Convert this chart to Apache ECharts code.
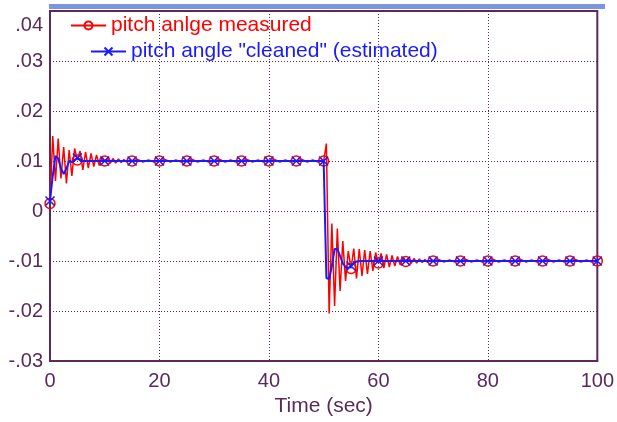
<!DOCTYPE html>
<html>
<head>
<meta charset="utf-8">
<script src="https://cdn.jsdelivr.net/npm/echarts@6/dist/echarts.min.js"></script>
<style>html,body{margin:0;padding:0;background:#fff}#c{width:617px;height:422px}</style>
</head>
<body>
<div id="c"></div>
<script>
// ---- data ----
const seriesNames = ['pitch anlge measured', 'pitch angle "cleaned" (estimated)'];
const xTickLabels = ['0', '20', '40', '60', '80', '100'];
const yTickLabels = ['-.03', '-.02', '-.01', '0', '.01', '.02', '.03', '.04'];

const tMeasured = [
  0, 0.5, 1, 1.5, 2, 2.5, 3, 3.5, 4, 4.5, 5, 5.5, 6, 6.5, 7, 7.5, 8, 8.5, 9, 9.5,
  10, 10.5, 11, 11.5, 12, 12.5, 13, 13.5, 14, 14.5, 15,
  16, 17, 18, 19, 20, 21, 22, 23, 24, 25, 26, 27, 28, 29, 30, 31, 32, 33, 34, 35,
  36, 37, 38, 39, 40, 41, 42, 43, 44, 45, 46, 47, 48, 49, 49.5, 50,
  50.5, 51, 51.5, 52, 52.5, 53, 53.5, 54, 54.5, 55, 55.5, 56, 56.5, 57, 57.5, 58, 58.5, 59, 59.5,
  60, 60.5, 61, 61.5, 62, 62.5, 63, 63.5, 64, 64.5, 65, 65.5, 66, 66.5, 67, 67.5, 68, 68.5, 69, 69.5, 70,
  71, 72, 73, 74, 75, 76, 77, 78, 79, 80, 81, 82, 83, 84, 85, 86, 87, 88, 89, 90,
  91, 92, 93, 94, 95, 96, 97, 98, 99, 100
];
const measured = [
  0.0015, 0.0150, 0.0060, 0.0145, 0.0065, 0.0128, 0.0055, 0.0122, 0.0070, 0.0125, 0.0102, 0.0120, 0.0082, 0.0118, 0.0086, 0.0115, 0.0089, 0.0112, 0.0091, 0.0108,
  0.0100, 0.0106, 0.0095, 0.0105, 0.0096, 0.0104, 0.0097, 0.0103, 0.0098, 0.0102, 0.0100,
  0.0103, 0.0098, 0.0102, 0.0098, 0.0100, 0.0103, 0.0098, 0.0102, 0.0098, 0.0100, 0.0103, 0.0098, 0.0102, 0.0098, 0.0100, 0.0103, 0.0098, 0.0102, 0.0098, 0.0100,
  0.0103, 0.0098, 0.0102, 0.0098, 0.0100, 0.0103, 0.0098, 0.0102, 0.0098, 0.0100, 0.0103, 0.0098, 0.0102, 0.0098, 0.0101, 0.0100,
  0.0135, -0.0205, -0.0025, -0.0190, -0.0035, -0.0160, -0.0060, -0.0140, -0.0080, -0.0115, -0.0075, -0.0135, -0.0076, -0.0130, -0.0078, -0.0126, -0.0080, -0.0120, -0.0083,
  -0.0104, -0.0085, -0.0114, -0.0087, -0.0112, -0.0089, -0.0110, -0.0091, -0.0108, -0.0092, -0.0101, -0.0094, -0.0105, -0.0095, -0.0104, -0.0096, -0.0103, -0.0097, -0.0103, -0.0098, -0.0100,
  -0.0097, -0.0102, -0.0098, -0.0102, -0.0100, -0.0097, -0.0102, -0.0098, -0.0102, -0.0100, -0.0097, -0.0102, -0.0098, -0.0102, -0.0100, -0.0097, -0.0102, -0.0098, -0.0102, -0.0100,
  -0.0097, -0.0102, -0.0098, -0.0102, -0.0100, -0.0097, -0.0102, -0.0098, -0.0102, -0.0100
];

const tCleaned = [
  0, 0.5, 1, 1.5, 2, 2.5, 3, 3.5, 4, 4.5, 5, 5.5, 6, 7,
  10, 15, 20, 25, 30, 35, 40, 45, 50,
  50.5, 51, 51.5, 52, 52.5, 53, 53.5, 54, 54.5, 55, 55.5, 56, 57,
  60, 65, 70, 75, 80, 85, 90, 95, 100
];
const cleaned = [
  0.0020, 0.0070, 0.0110, 0.0105, 0.0085, 0.0074, 0.0085, 0.0100, 0.0098, 0.0102, 0.0106, 0.0103, 0.0100, 0.0100,
  0.0100, 0.0100, 0.0100, 0.0100, 0.0100, 0.0100, 0.0100, 0.0100, 0.0100,
  -0.0134, -0.0136, -0.0110, -0.0076, -0.0076, -0.0090, -0.0105, -0.0112, -0.0114, -0.0110, -0.0104, -0.0101, -0.0100,
  -0.0100, -0.0100, -0.0100, -0.0100, -0.0100, -0.0100, -0.0100, -0.0100, -0.0100
];

// ---- build ----
function toItems(ts, vs) {
  return ts.map((t, i) => (t % 5 === 0) ? { value: [t, vs[i]] } : { value: [t, vs[i]], symbol: 'none' });
}
const AX = '#5a2a5a';
const FONT = 'Liberation Sans, Arial, sans-serif';
const chart = echarts.init(document.getElementById('c'), null, { renderer: 'canvas' });
chart.setOption({
  animation: false,
  backgroundColor: '#ffffff',
  graphic: [{ type: 'rect', left: 49, top: 4, shape: { width: 556, height: 5 }, style: { fill: '#7b96e0' }, z: 10 }],
  grid: { left: 50, top: 11, width: 551, height: 351, show: true, borderColor: AX, borderWidth: 2, backgroundColor: '#fff' },
  legend: [
    { data: [seriesNames[0]], left: 70, top: 15, padding: 0, itemWidth: 35, itemHeight: 10, textStyle: { color: '#ff0000', fontSize: 21, fontFamily: FONT }, selectedMode: false },
    { data: [seriesNames[1]], left: 90, top: 41, padding: 0, itemWidth: 35, itemHeight: 10, textStyle: { color: '#1a1aff', fontSize: 21, fontFamily: FONT }, selectedMode: false }
  ],
  xAxis: {
    type: 'value', min: 0, max: 100, interval: 20,
    name: 'Time (sec)', nameLocation: 'middle', nameGap: 35,
    nameTextStyle: { color: AX, fontSize: 21, fontFamily: FONT },
    axisLine: { onZero: false, lineStyle: { color: AX, width: 2 } },
    axisTick: { show: false },
    axisLabel: { color: AX, fontSize: 20, fontFamily: FONT, margin: 10,
      formatter: v => xTickLabels[Math.round(v / 20)] },
    splitLine: { show: true, lineStyle: { color: AX, width: 1, type: [1, 2] } }
  },
  yAxis: {
    type: 'value', min: -0.03, max: 0.04, interval: 0.01,
    axisLine: { show: true, onZero: false, lineStyle: { color: AX, width: 2 } },
    axisTick: { show: false },
    axisLabel: { color: AX, fontSize: 20, fontFamily: FONT, margin: 7,
      formatter: v => { const k = Math.round(v * 100) + 3; return k === 7 ? '{t|' + yTickLabels[k] + '}' : yTickLabels[k]; },
      rich: { t: { padding: [28, 0, 0, 0], color: AX, fontSize: 20, fontFamily: FONT } } },
    splitLine: { show: true, lineStyle: { color: AX, width: 1, type: [1, 2] } }
  },
  series: [
    { name: seriesNames[0], type: 'line', data: toItems(tMeasured, measured),
      symbol: 'circle', symbolSize: 10, showSymbol: true,
      lineStyle: { color: '#ff0000', width: 1.5 },
      itemStyle: { color: 'rgba(255,255,255,0)', borderColor: '#ff0000', borderWidth: 1.5 },
      z: 3 },
    { name: seriesNames[1], type: 'line', data: toItems(tCleaned, cleaned),
      symbol: 'path://M0,0L10,10M0,10L10,0', symbolSize: 9, showSymbol: true,
      lineStyle: { color: '#1a1aff', width: 2 },
      itemStyle: { color: 'rgba(0,0,0,0)', borderColor: '#1a1aff', borderWidth: 1.5 },
      z: 4 }
  ]
});
</script>
</body>
</html>
